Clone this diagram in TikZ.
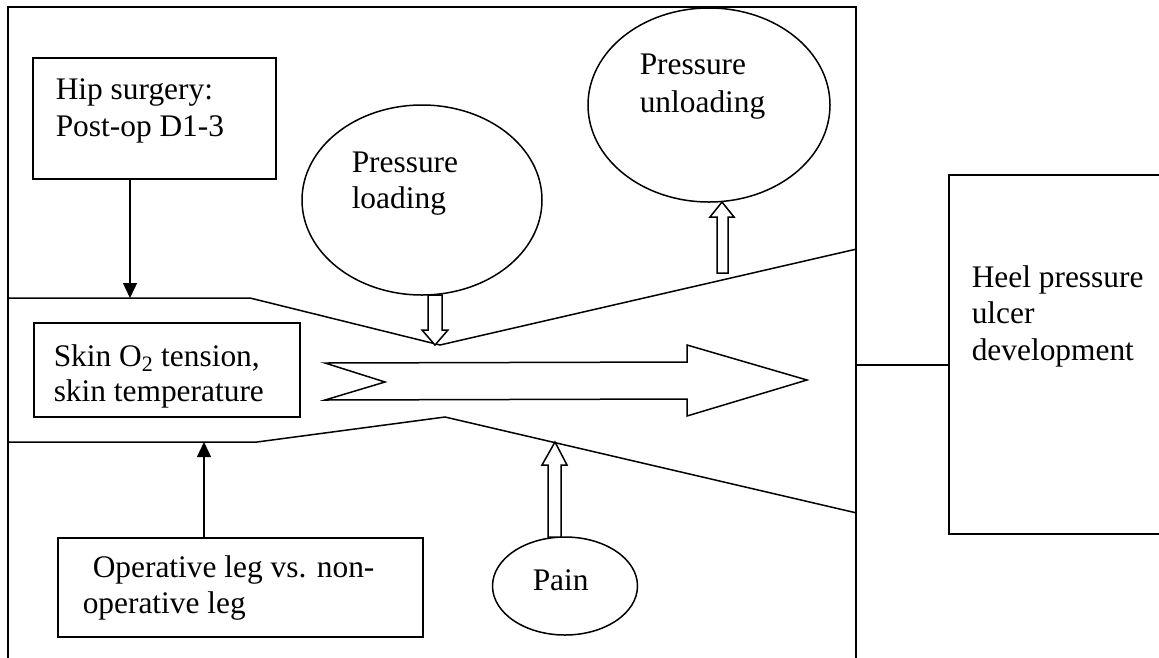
\documentclass[tikz,border=0pt]{standalone}
\usepackage{fontspec}
\setmainfont{Liberation Serif}
\usetikzlibrary{shapes.geometric,arrows.meta}
\begin{document}
\begin{tikzpicture}[x=1pt,y=-1pt,line width=1.5pt,
  txt/.style={anchor=base west,inner sep=0pt,text height=22pt,text depth=6pt,font=\fontsize{31.4}{37}\selectfont},
  box/.style={draw,rectangle,inner sep=0pt},
  oval/.style={draw,ellipse,inner sep=0pt},
  thinarrow/.style={line width=1.4pt,-{Triangle[length=15pt,width=14pt]}},
  hollow/.style={draw,fill=white,line width=1.5pt,line join=miter}]
\useasboundingbox (0,0) rectangle (1159,657);
% frame (open at bottom: continues past page)
\node[box,minimum width=848pt,minimum height=666pt] (frame) at (432,340) {};
% boxes
\node[box,minimum width=243pt,minimum height=121pt] (hip) at (154.5,118.5) {};
\node[box,minimum width=266pt,minimum height=94pt] (skin) at (167,370) {};
\node[box,minimum width=365pt,minimum height=99pt] (oper) at (240.5,587.5) {};
\node[box,minimum width=221pt,minimum height=359pt] (heel) at (1059.5,354.5) {};
% ellipses
\node[oval,minimum width=240pt,minimum height=190pt] (load) at (422,200) {};
\node[oval,minimum width=242pt,minimum height=194pt] (unload) at (709,105) {};
\node[oval,minimum width=145pt,minimum height=98pt] (pain) at (565,586) {};
% channel boundaries
\draw (frame.west |- 0,298) -- (250,298) -- (440,345) -- (frame.east |- 0,249);
\draw (frame.west |- 0,442) -- (257,442) -- (445,417) -- (frame.east |- 0,513);
% thin arrows
\coordinate (u1) at (130,298);
\coordinate (l1) at (204,442);
\draw[thinarrow] (hip.south -| u1) -- (u1);
\draw[thinarrow] (oper.north -| l1) -- (l1);
% connector to heel box
\coordinate (fr) at (856,365);
\draw[line width=1.2pt] (fr) -- (fr -| heel.west);
% big arrow
\draw[hollow] (325,363) -- (687,362) -- (687,345) -- (807,380) -- (687,416) -- (687,399) -- (325,400) -- (385,382) -- cycle;
% hollow block arrows
\draw[hollow] (428,295) -- (442,295) -- (442,330) -- (448,330) -- (435,345) -- (422,330) -- (428,330) -- cycle;
\draw[hollow] (717,273) -- (728,273) -- (728,217) -- (734,217) -- (722,202) -- (710,217) -- (717,217) -- cycle;
\draw[hollow] (548,537) -- (561,537) -- (561,465) -- (567,465) -- (555,442) -- (542,465) -- (548,465) -- cycle;
% texts
\node[txt] (hipA) at (55,99) {Hip surgery:};
\node[txt] (hipB) at (55,136) {Post-op D1-3};
\node[txt] (loadA) at (351,172) {Pressure};
\node[txt] (loadB) at (351,208) {loading};
\node[txt] (unA) at (639,74) {Pressure};
\node[txt] (unB) at (639,112) {unloading};
\node[txt] (skA) at (53,366) {Skin O\smash{\textsubscript{2}} tension,};
\node[txt] (skB) at (53,401) {skin temperature};
\node[txt] (opA) at (92,577) {Operative leg vs. non-};
\node[txt] (opB) at (82,613) {operative leg};
\node[txt] (heA) at (971,287) {Heel pressure};
\node[txt] (heB) at (971,323) {ulcer};
\node[txt] (heC) at (971,360) {development};
\node[txt] (painT) at (532,590) {Pain};
\end{tikzpicture}
\end{document}
